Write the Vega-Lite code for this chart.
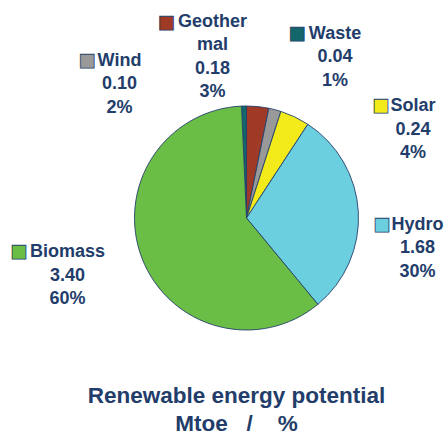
{
  "$schema": "https://vega.github.io/schema/vega-lite/v6.json",
  "autosize": {"type": "none"},
  "padding": {"left": 48, "top": 0, "right": 0, "bottom": 2},
  "width": 397,
  "height": 436,
  "background": "white",
  "title": {
    "text": ["Renewable energy potential", "Mtoe\u00a0\u00a0\u00a0/\u00a0\u00a0\u00a0\u00a0%"],
    "orient": "bottom",
    "anchor": "middle",
    "offset": -51,
    "dx": -10,
    "font": "Liberation Sans",
    "fontSize": 22.5,
    "fontWeight": "bold",
    "color": "#233d6b",
    "lineHeight": 28
  },
  "data": {
    "values": [
      {"source": "Waste", "value": 0.04, "pct": 1, "rank": 1},
      {"source": "Geothermal", "value": 0.18, "pct": 3, "rank": 2},
      {"source": "Wind", "value": 0.10, "pct": 2, "rank": 3},
      {"source": "Solar", "value": 0.24, "pct": 4, "rank": 4},
      {"source": "Hydro", "value": 1.68, "pct": 30, "rank": 5},
      {"source": "Biomass", "value": 3.40, "pct": 60, "rank": 6}
    ]
  },
  "encoding": {
    "theta": {"field": "value", "type": "quantitative", "stack": true, "scale": {"range": [-0.0445, 6.2387]}},
    "order": {"field": "rank", "type": "quantitative", "sort": "ascending"},
    "color": {
      "field": "source", "type": "nominal", "legend": null,
      "scale": {
        "domain": ["Waste", "Geothermal", "Wind", "Solar", "Hydro", "Biomass"],
        "range": ["#13676b", "#9e3a26", "#999999", "#f3ea1a", "#6ccfdf", "#6abd45"]
      }
    }
  },
  "layer": [
    {
      "mark": {"type": "arc", "outerRadius": 112, "stroke": "#24406b", "strokeWidth": 0.9}
    },
    {
      "mark": {
        "type": "text", "radius": 150, "align": "center", "baseline": "middle",
        "font": "Liberation Sans", "fontSize": 18, "fontWeight": "bold", "lineHeight": 23.5,
        "fill": "#233d6b",
        "text": {"expr": "datum.source === 'Geothermal' ? ['Geother', 'mal', format(datum.value, '.2f'), datum.pct + '%'] : [datum.source, format(datum.value, '.2f'), datum.pct + '%']"},
        "dx": {"expr": "{'Waste': 91.85, 'Geothermal': -49, 'Wind': -165, 'Solar': 101.8, 'Hydro': 21.2, 'Biomass': -39}[datum.source]"},
        "dy": {"expr": "{'Waste': -34.5, 'Geothermal': -46.9, 'Wind': -11.9, 'Solar': 23.4, 'Hydro': 15.3, 'Biomass': -19.9}[datum.source]"}
      },
      "encoding": {"color": {"value": "#233d6b"}}
    },
    {
      "mark": {
        "type": "text", "radius": 150, "align": "center", "baseline": "middle",
        "font": "DejaVu Sans", "fontSize": 18, "text": "\u25a0",
        "stroke": "#24406b", "strokeWidth": 0.8,
        "dx": {"expr": "{'Waste': 53.85, 'Geothermal': -95.2, 'Wind': -197.5, 'Solar': 69.5, 'Hydro': -14.6, 'Biomass': -87.8}[datum.source]"},
        "dy": {"expr": "{'Waste': -33.7, 'Geothermal': -46, 'Wind': -11.4, 'Solar': 23.6, 'Hydro': 15.3, 'Biomass': -19.9}[datum.source]"}
      }
    }
  ],
  "config": {"view": {"stroke": null}}
}
